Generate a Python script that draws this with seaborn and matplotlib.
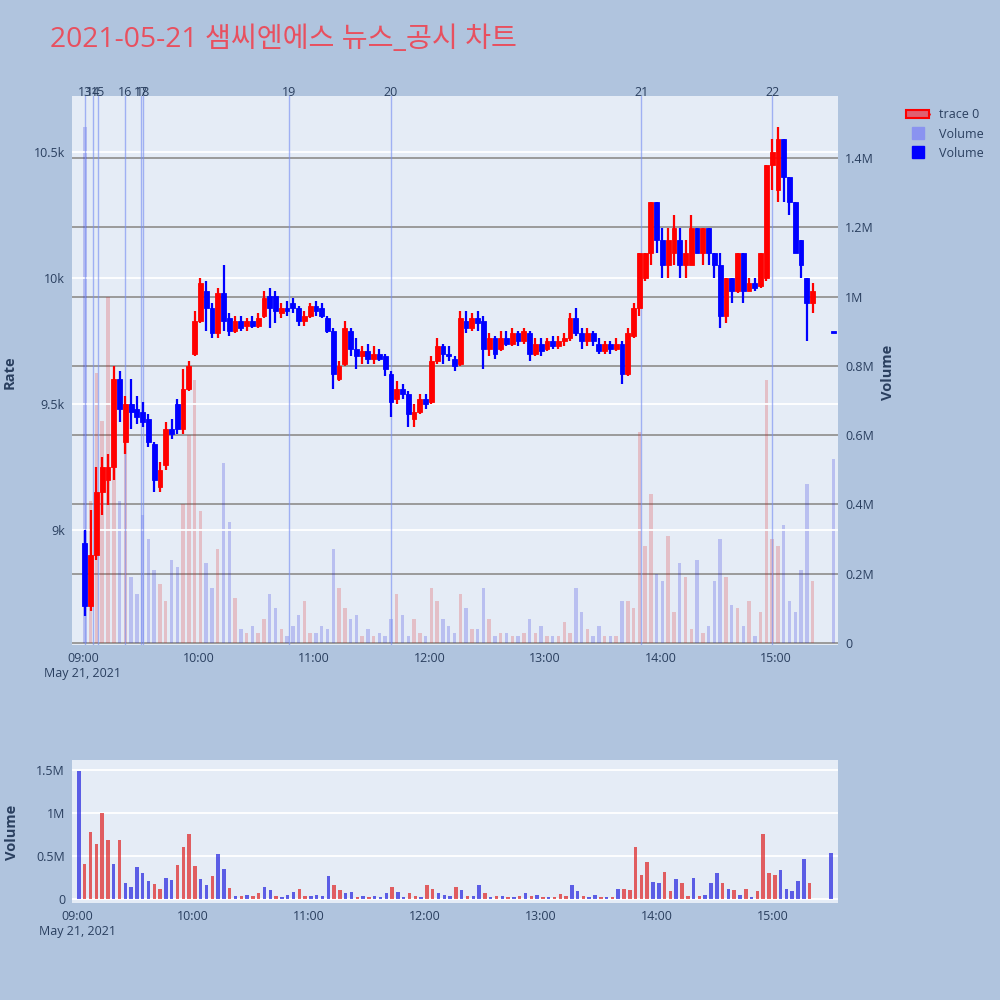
import numpy as np
import pandas as pd
import matplotlib
matplotlib.use('Agg')
import matplotlib.pyplot as plt
import matplotlib.transforms as mtransforms
from matplotlib.lines import Line2D
from matplotlib.patches import Patch
import seaborn as sns

TITLE = "2021-05-21 샘씨엔에스 뉴스_공시 차트"

# 3-minute candles from 09:00 (price in KRW)
opens = [8950, 8700, 8900, 9150, 9200, 9250, 9600, 9350, 9500, 9480,
         9470, 9440, 9340, 9170, 9260, 9400, 9500, 9400, 9560, 9700,
         9830, 9950, 9880, 9780, 9940, 9840, 9790, 9830, 9810, 9830,
         9810, 9850, 9930, 9930, 9860, 9880, 9900, 9880, 9830, 9850,
         9890, 9880, 9840, 9790, 9600, 9660, 9790, 9720, 9690, 9710,
         9680, 9700, 9690, 9620, 9520, 9560, 9540, 9440, 9470, 9520,
         9510, 9670, 9730, 9700, 9680, 9660, 9830, 9800, 9840, 9830,
         9720, 9760, 9720, 9760, 9740, 9780, 9750, 9780, 9700, 9740,
         9720, 9750, 9730, 9750, 9760, 9840, 9780, 9750, 9780, 9740,
         9710, 9740, 9720, 9740, 9620, 9770, 9880, 10000, 10100, 10300,
         10150, 10050, 10100, 10150, 10050, 10050, 10200, 10100, 10200, 10100,
         10050, 9850, 10000, 9950, 10100, 9950, 9980, 9970, 10000, 10450,
         10350, 10550, 10400, 10300, 10150, 10000, 9900]
closes = [8700, 8900, 9150, 9250, 9250, 9600, 9480, 9500, 9470, 9450,
          9430, 9350, 9200, 9240, 9400, 9380, 9400, 9560, 9650, 9830,
          9980, 9880, 9780, 9940, 9830, 9790, 9830, 9800, 9830, 9810,
          9840, 9920, 9880, 9870, 9880, 9870, 9880, 9830, 9850, 9890,
          9870, 9850, 9790, 9620, 9650, 9800, 9720, 9690, 9710, 9680,
          9700, 9680, 9640, 9510, 9560, 9540, 9460, 9470, 9520, 9500,
          9670, 9730, 9700, 9690, 9650, 9840, 9800, 9840, 9820, 9720,
          9760, 9700, 9760, 9740, 9780, 9750, 9790, 9700, 9740, 9710,
          9750, 9730, 9750, 9760, 9840, 9780, 9750, 9780, 9750, 9710,
          9740, 9720, 9740, 9620, 9780, 9880, 10100, 10100, 10300, 10150,
          10050, 10150, 10200, 10050, 10100, 10200, 10100, 10200, 10100, 10050,
          9850, 10000, 9950, 10100, 9950, 9980, 9960, 10100, 10450, 10500,
          10550, 10400, 10300, 10100, 10050, 9900, 9950]
highs = [9000, 9080, 9250, 9290, 9300, 9650, 9630, 9530, 9600, 9530,
         9510, 9460, 9350, 9270, 9430, 9440, 9520, 9640, 9670, 9870,
         10000, 9990, 9900, 9960, 10050, 9860, 9850, 9850, 9840, 9850,
         9860, 9950, 9960, 9950, 9900, 9910, 9920, 9890, 9870, 9900,
         9910, 9900, 9850, 9800, 9670, 9830, 9800, 9760, 9730, 9740,
         9730, 9720, 9700, 9630, 9590, 9580, 9550, 9500, 9540, 9540,
         9690, 9760, 9740, 9730, 9690, 9870, 9870, 9860, 9870, 9850,
         9780, 9770, 9790, 9790, 9800, 9790, 9800, 9790, 9760, 9760,
         9760, 9770, 9770, 9780, 9860, 9880, 9800, 9800, 9790, 9760,
         9750, 9750, 9760, 9750, 9800, 9900, 10100, 10100, 10300, 10300,
         10200, 10200, 10250, 10200, 10150, 10250, 10200, 10200, 10200, 10100,
         10100, 10000, 10000, 10100, 10100, 10000, 10000, 10100, 10450, 10550,
         10600, 10550, 10400, 10300, 10150, 10000, 9980]
lows = [8660, 8680, 8880, 9060, 9100, 9200, 9430, 9300, 9400, 9420,
        9410, 9330, 9150, 9150, 9240, 9360, 9380, 9380, 9550, 9690,
        9820, 9790, 9760, 9760, 9790, 9770, 9780, 9790, 9790, 9800,
        9800, 9840, 9800, 9820, 9840, 9850, 9860, 9810, 9810, 9840,
        9850, 9840, 9780, 9560, 9590, 9650, 9690, 9640, 9660, 9660,
        9660, 9670, 9610, 9450, 9500, 9520, 9410, 9410, 9460, 9480,
        9500, 9660, 9660, 9670, 9630, 9650, 9780, 9790, 9790, 9640,
        9690, 9680, 9710, 9730, 9730, 9730, 9740, 9670, 9690, 9690,
        9710, 9720, 9720, 9730, 9750, 9770, 9720, 9730, 9730, 9700,
        9700, 9700, 9710, 9580, 9610, 9760, 9850, 9990, 10050, 10100,
        10000, 10000, 10050, 10000, 10000, 10050, 10100, 10050, 10050, 10000,
        9800, 9820, 9900, 9940, 9900, 9950, 9950, 9960, 9990, 10350,
        10300, 10300, 10250, 10100, 10000, 9750, 9860]
# volume per candle, in millions of shares
volume_m = [1.49, 0.41, 0.78, 0.64, 1.00, 0.69, 0.41, 0.69, 0.19, 0.14,
            0.37, 0.30, 0.21, 0.17, 0.12, 0.24, 0.22, 0.40, 0.60, 0.76,
            0.38, 0.23, 0.16, 0.27, 0.52, 0.35, 0.13, 0.04, 0.03, 0.05,
            0.03, 0.07, 0.14, 0.10, 0.04, 0.02, 0.05, 0.08, 0.12, 0.03,
            0.03, 0.05, 0.04, 0.27, 0.16, 0.10, 0.07, 0.08, 0.02, 0.04,
            0.02, 0.03, 0.02, 0.07, 0.14, 0.08, 0.02, 0.07, 0.03, 0.02,
            0.16, 0.12, 0.07, 0.05, 0.03, 0.14, 0.10, 0.04, 0.04, 0.16,
            0.07, 0.02, 0.03, 0.03, 0.02, 0.02, 0.03, 0.07, 0.03, 0.05,
            0.02, 0.02, 0.02, 0.06, 0.03, 0.16, 0.09, 0.04, 0.02, 0.05,
            0.02, 0.02, 0.02, 0.12, 0.12, 0.10, 0.61, 0.28, 0.43, 0.20,
            0.18, 0.31, 0.09, 0.23, 0.19, 0.04, 0.24, 0.03, 0.05, 0.18,
            0.30, 0.19, 0.11, 0.10, 0.05, 0.12, 0.02, 0.09, 0.76, 0.30,
            0.28, 0.34, 0.12, 0.09, 0.21, 0.46, 0.18]

# closing auction at 15:30
auction_minute = 390
auction_price = 9780
auction_volume = 0.53

# news / disclosure markers (minutes after 09:00)
news_labels = ['13', '14', '15', '16', '17', '18', '19', '20', '21', '22']
news_minutes = [1, 5, 8, 22, 30, 31, 107, 160, 290, 358]

hour_ticks = [0, 60, 120, 180, 240, 300, 360]
hour_labels = ['09:00\nMay 21, 2021', '10:00', '11:00', '12:00', '13:00', '14:00', '15:00']

RED = '#ff0000'
BLUE = '#0000ff'
TEXT = '#2a3f5f'
PLOT_BG = '#e5ecf6'
PAPER_BG = '#b0c4de'

sns.set_theme(style='darkgrid')
plt.rcParams['font.family'] = ['Open Sans', 'Noto Sans CJK KR', 'DejaVu Sans']

df = pd.DataFrame({
    'minute': 3 * np.arange(len(opens)) + 1,
    'open': opens, 'close': closes, 'high': highs, 'low': lows,
    'volume': volume_m,
})
auction = pd.DataFrame({'minute': [auction_minute], 'open': [auction_price],
                        'close': [auction_price], 'high': [auction_price],
                        'low': [auction_price], 'volume': [auction_volume]})
df = pd.concat([df, auction], ignore_index=True)
df['direction'] = np.where(df['close'] > df['open'], 'up', 'down')
palette = {'up': RED, 'down': BLUE}
colors = df['direction'].map(palette)

fig = plt.figure(figsize=(10, 10), dpi=100, facecolor=PAPER_BG)
ax = fig.add_axes([0.072, 0.355, 0.766, 0.549])
ax_vol = ax.twinx()
ax.set_zorder(ax_vol.get_zorder() + 1)
ax.patch.set_visible(False)
ax_vol.patch.set_visible(True)
ax_vol.set_facecolor(PLOT_BG)

# volume overlay (right axis)
sns.barplot(data=df, x='minute', y='volume', hue='direction', palette=palette,
            native_scale=True, dodge=False, width=0.6, alpha=0.22, linewidth=0,
            errorbar=None, legend=False, ax=ax_vol)

# candlesticks
ax.vlines(df['minute'], df['low'], df['high'], colors=colors, lw=1.6, zorder=3)
body_bottom = df[['open', 'close']].min(axis=1)
body_height = (df['close'] - df['open']).abs().clip(lower=8)
ax.bar(df['minute'], body_height, bottom=body_bottom, width=2.5,
       color=colors, edgecolor=colors, linewidth=0.6, zorder=4)

# news lines
trans = mtransforms.blended_transform_factory(ax.transData, ax.transAxes)
for lbl, m in zip(news_labels, news_minutes):
    ax.axvline(m, color='#7a90f2', lw=1, alpha=0.65, zorder=2)
    ax.text(m, 1.006, lbl, transform=trans, ha='center', va='center',
            fontsize=9, color=TEXT)

ax.set_xlim(-5.7, 392.2)
ax.set_ylim(8544, 10722)
ax_vol.set_ylim(-0.006, 1.579)

ax.set_yticks([9000, 9500, 10000, 10500])
ax.set_yticklabels(['9k', '9.5k', '10k', '10.5k'])
ax.set_xticks(hour_ticks)
ax.set_xticklabels(hour_labels)
ax_vol.set_yticks([0, 0.2, 0.4, 0.6, 0.8, 1.0, 1.2, 1.4])
ax_vol.set_yticklabels(['0', '0.2M', '0.4M', '0.6M', '0.8M', '1M', '1.2M', '1.4M'])

ax.grid(True, axis='y', color='white', lw=1.3)
ax.grid(False, axis='x')
ax_vol.grid(True, axis='y', color='#9a9a9a', lw=1.4)
ax_vol.grid(False, axis='x')
ax.set_xlabel('')
ax.set_ylabel('')
ax_vol.set_xlabel('')
ax_vol.set_ylabel('')
for a in (ax, ax_vol):
    for s in a.spines.values():
        s.set_visible(False)
    a.tick_params(length=0, labelsize=9, colors=TEXT, pad=5)

# bottom volume panel
ax_b = fig.add_axes([0.072, 0.097, 0.766, 0.143], facecolor=PLOT_BG)
sns.barplot(data=df, x='minute', y='volume', hue='direction', palette=palette,
            native_scale=True, dodge=False, width=0.6, alpha=0.7, linewidth=0,
            errorbar=None, legend=False, ax=ax_b)
ax_b.set_xlim(-2.6, 393.7)
ax_b.set_ylim(-0.047, 1.616)
ax_b.set_yticks([0, 0.5, 1.0, 1.5])
ax_b.set_yticklabels(['0', '0.5M', '1M', '1.5M'])
ax_b.set_xticks(hour_ticks)
ax_b.set_xticklabels(hour_labels)
ax_b.grid(True, axis='y', color='white', lw=1.3)
ax_b.grid(False, axis='x')
ax_b.set_xlabel('')
ax_b.set_ylabel('')
for s in ax_b.spines.values():
    s.set_visible(False)
ax_b.tick_params(length=0, labelsize=9, colors=TEXT, pad=5)

# axis titles
fig.text(0.01, 0.628, 'Rate', rotation=90, ha='center', va='center',
         fontsize=10.5, color=TEXT, fontweight='bold')
fig.text(0.888, 0.628, 'Volume', rotation=90, ha='center', va='center',
         fontsize=10.5, color=TEXT, fontweight='bold')
fig.text(0.012, 0.168, 'Volume', rotation=90, ha='center', va='center',
         fontsize=10.5, color=TEXT, fontweight='bold')

fig.text(0.05, 0.96, TITLE, ha='left', va='center', fontsize=20.3, color='#e8505f')

handles = [
    (Line2D([0], [0], color=RED, lw=2), Patch(facecolor='#e06070', edgecolor=RED, lw=1.5)),
    Line2D([0], [0], marker='s', ls='', color='#8a93f0', ms=9),
    Line2D([0], [0], marker='s', ls='', color=BLUE, ms=9),
]
fig.legend(handles, ['trace 0', 'Volume', 'Volume'], loc='upper left',
           bbox_to_anchor=(0.895, 0.903), frameon=False, fontsize=9,
           labelcolor=TEXT, handlelength=1.8)

fig.savefig('out.png', dpi=100, facecolor=PAPER_BG)
